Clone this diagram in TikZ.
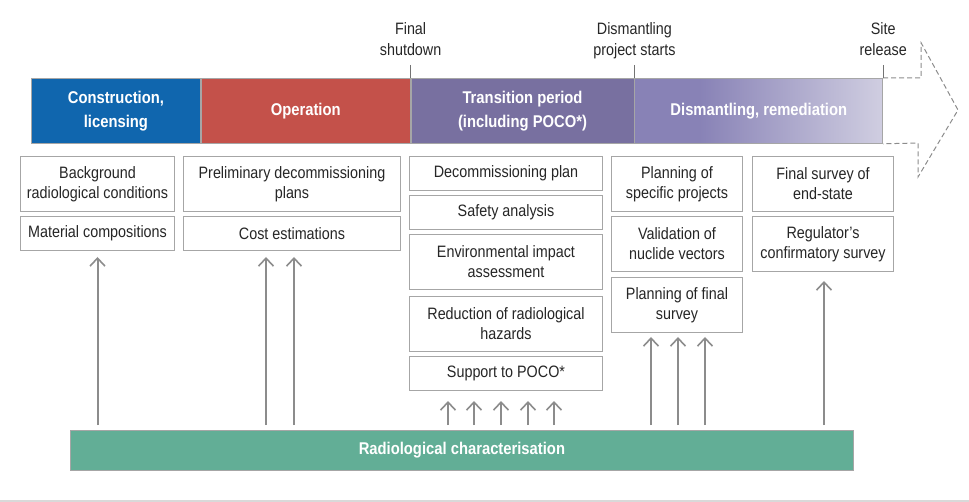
\documentclass[tikz,border=0pt]{standalone}
\usepackage{fontspec}
\setmainfont[FakeStretch=0.87]{Liberation Sans}
\usetikzlibrary{positioning,arrows.meta}

\definecolor{constrblue}{HTML}{1066AE}
\definecolor{operred}{HTML}{C4514A}
\definecolor{transpurple}{HTML}{7870A0}
\definecolor{dismpurple}{HTML}{8882B6}
\definecolor{dismlight}{HTML}{D0CEE1}
\definecolor{chargreen}{HTML}{62AE96}
\definecolor{framegrey}{HTML}{A6A6A6}
\definecolor{arrowgrey}{HTML}{8C8C8C}
\pgfdeclarehorizontalshading{dismshade}{100bp}{color(0bp)=(dismpurple); color(25bp)=(dismpurple);
    color(38bp)=(dismpurple); color(75bp)=(dismlight); color(100bp)=(dismlight)}

\begin{document}
\begin{tikzpicture}[x=1pt,y=-1pt,
    phase node/.style={draw=framegrey,line width=0.8pt,minimum height=65pt,inner sep=0pt,
        align=center,text=white,font=\bfseries\fontsize{17}{24}\selectfont},
    task node/.style={draw=framegrey,line width=1pt,fill=white,inner sep=0pt,minimum height=34pt,
        align=center,text=black!85,font=\fontsize{16.5}{20}\selectfont},
    tall node/.style={task node,minimum height=55pt},
    milestone node/.style={inner sep=0pt,text depth=0pt,align=center,text=black!85,
        font=\fontsize{16.5}{21}\selectfont},
    tick line/.style={draw=black!55,line width=0.7pt,shorten <=9pt},
    up arrow/.style={draw=arrowgrey,line width=2pt,
        -{Straight Barb[length=8pt,width=15pt,line width=1.6pt]},shorten <=5pt,shorten >=6pt}]
    \useasboundingbox (0,0) rectangle (969,502);

    % time line
    \node[phase node,fill=constrblue,minimum width=169pt,anchor=north west] (constr) at (31,78) {Construction,\\licensing};
    \node[phase node,fill=operred,minimum width=209pt] (oper) [right=0pt of constr] {Operation};
    \node[phase node,fill=transpurple,minimum width=223pt] (trans) [right=0pt of oper] {Transition period\\(including POCO*)};
    \node[phase node,shading=dismshade,minimum width=248pt] (dism) [right=0pt of trans] {Dismantling, remediation};
    \draw[draw=arrowgrey,line width=1pt,dash pattern=on 5pt off 3pt]
        (dism.north east) -- ++(38,0) -- ++(0,-35) -- (958,110) -- (918,177) -- ++(0,-34) -- (dism.south east);

    % milestones
    \node[milestone node,above=22pt of trans.north west] (shutdown) {Final\\shutdown};
    \node[milestone node,above=22pt of dism.north west] (projstart) {Dismantling\\project starts};
    \node[milestone node,above=22pt of dism.north east] (release) {Site\\release};
    \draw[tick line] (shutdown.south) -- (trans.north west);
    \draw[tick line] (projstart.south) -- (dism.north west);
    \draw[tick line] (release.south) -- (dism.north east);

    % tasks
    \node[tall node,minimum width=154pt,anchor=north west] (backgr) at (20,156) {Background\\radiological conditions};
    \node[task node,minimum width=154pt] (matcomp) [below=4pt of backgr] {Material compositions};

    \node[tall node,minimum width=217pt,anchor=north west] (prelim) at (183,156) {Preliminary decommissioning\\plans};
    \node[task node,minimum width=217pt] (cost) [below=4pt of prelim] {Cost estimations};

    \node[task node,minimum width=193pt,anchor=north west] (decplan) at (409,156) {Decommissioning plan};
    \node[task node,minimum width=193pt] (safety) [below=4pt of decplan] {Safety analysis};
    \node[tall node,minimum width=193pt] (envimp) [below=4pt of safety] {Environmental impact\\assessment};
    \node[tall node,minimum width=193pt] (hazards) [below=6pt of envimp] {Reduction of radiological\\hazards};
    \node[task node,minimum width=193pt] (poco) [below=4pt of hazards] {Support to POCO*};

    \node[tall node,minimum width=131pt,anchor=north west] (specproj) at (611,156) {Planning of\\specific projects};
    \node[tall node,minimum width=131pt] (nuclide) [below=4pt of specproj] {Validation of\\nuclide vectors};
    \node[tall node,minimum width=131pt] (finplan) [below=5pt of nuclide] {Planning of final\\survey};

    \node[tall node,minimum width=141pt,anchor=north west] (endstate) at (752,156) {Final survey of\\end-state};
    \node[tall node,minimum width=141pt] (confirm) [below=4pt of endstate] {Regulator’s\\confirmatory survey};

    % characterisation
    \node[draw=framegrey,line width=0.8pt,fill=chargreen,minimum width=783pt,minimum height=40pt,inner sep=0pt,
        anchor=north west,text=white,font=\bfseries\fontsize{17}{18}\selectfont] (charac) at (70,430) {Radiological characterisation};

    \draw[up arrow] (charac.north -| matcomp.south) -- (matcomp.south);
    \foreach \ax in {266,294}
        \draw[up arrow] (charac.north -| \ax,0) -- (cost.south -| \ax,0);
    \foreach \ax in {448,474,501,528,554}
        \draw[up arrow,shorten >=10pt] (charac.north -| \ax,0) -- (poco.south -| \ax,0);
    \foreach \ax in {651,678,705}
        \draw[up arrow,shorten >=4pt] (charac.north -| \ax,0) -- (finplan.south -| \ax,0);
    \draw[up arrow,shorten >=9pt] (charac.north -| 824,0) -- (confirm.south -| 824,0);

    \draw[black!15,line width=1.5pt] (0,501) -- (969,501);
\end{tikzpicture}
\end{document}
